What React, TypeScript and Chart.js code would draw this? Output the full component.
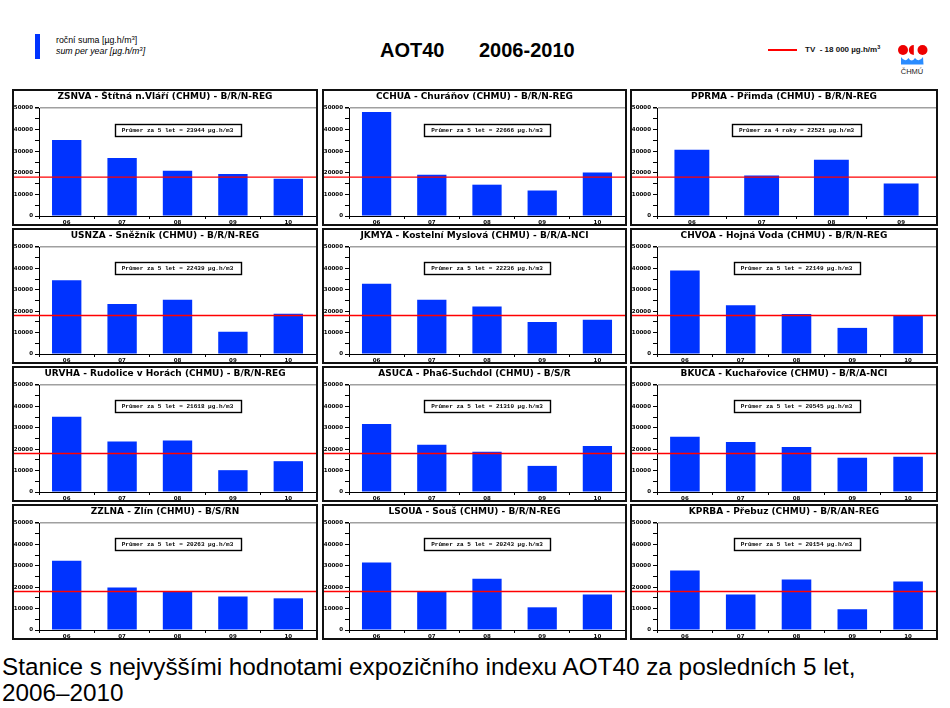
import React, { useEffect, useRef } from 'react';
import { Chart, registerables } from 'chart.js';

Chart.register(...registerables);

// ---------- data ----------
const YEARS5 = ['06', '07', '08', '09', '10'];
const YEARS4 = ['06', '07', '08', '09'];
const TARGET_VALUE = 18000;
const Y_MAX = 50000;
const Y_STEP = 5000;
const Y_LABEL_STEP = 10000;

const titles = [
  'ZSNVA - Štítná n.Vláří (CHMU) - B/R/N-REG',
  'CCHUA - Churáňov (CHMU) - B/R/N-REG',
  'PPRMA - Přimda (CHMU) - B/R/N-REG',
  'USNZA - Sněžník (CHMU) - B/R/N-REG',
  'JKMYA - Kostelní Myslová (CHMU) - B/R/A-NCI',
  'CHVOA - Hojná Voda (CHMU) - B/R/N-REG',
  'URVHA - Rudolice v Horách (CHMU) - B/R/N-REG',
  'ASUCA - Pha6-Suchdol (CHMU) - B/S/R',
  'BKUCA - Kuchařovice (CHMU) - B/R/A-NCI',
  'ZZLNA - Zlín (CHMU) - B/S/RN',
  'LSOUA - Souš (CHMU) - B/R/N-REG',
  'KPRBA - Přebuz (CHMU) - B/R/AN-REG',
];

const zsnva = [35200, 26800, 21000, 19500, 17200];
const cchua = [48100, 19100, 14500, 11800, 20100];
const pprma = [30700, 18800, 26000, 15100];
const usnza = [34500, 23400, 25300, 10400, 18800];
const jkmya = [32800, 25300, 22200, 15000, 16000];
const chvoa = [39000, 22800, 18700, 12200, 18200];
const urvha = [35200, 23600, 24100, 10200, 14400];
const asuca = [31800, 22100, 18800, 12200, 21500];
const bkuca = [25800, 23400, 21000, 16000, 16500];
const zzlna = [32400, 19900, 18000, 15700, 14800];
const lsoua = [31500, 18000, 24000, 10600, 16600];
const kprba = [27800, 16600, 23600, 9700, 22700];

const series = [zsnva, cchua, pprma, usnza, jkmya, chvoa, urvha, asuca, bkuca, zzlna, lsoua, kprba];
const categories = [YEARS5, YEARS5, YEARS4, YEARS5, YEARS5, YEARS5, YEARS5, YEARS5, YEARS5, YEARS5, YEARS5, YEARS5];
const meanValues = [23944, 22666, 22521, 22439, 22236, 22149, 21618, 21310, 20545, 20263, 20243, 20154];
const meanPeriods = ['5 let', '5 let', '4 roky', '5 let', '5 let', '5 let', '5 let', '5 let', '5 let', '5 let', '5 let', '5 let'];

// ---------- layout ----------
const COL_X = [12, 322, 630];
const COL_W = [306, 305, 308];
const ROW_Y = [89, 228, 366, 504];
const ROW_H = [137, 136, 136, 136];
const BORDER = 2;
const BOX_LEVEL = 40000;
const BAR_BLUE = '#0033ff';
const TICK_FONT = { size: 5.5, weight: 'bold', family: '"DejaVu Sans", Arial' };

const panelPlugin = {
  id: 'panelDeco',
  beforeDraw(chart: any, _args: any, opts: any) {
    const ctx = chart.ctx;
    ctx.save();
    ctx.fillStyle = '#000';
    ctx.font = 'bold 9px "DejaVu Sans", Arial';
    ctx.textAlign = 'center';
    ctx.textBaseline = 'top';
    ctx.fillText(opts.title, chart.width / 2, 1);
    ctx.restore();
  },
  afterDatasetsDraw(chart: any, _args: any, opts: any) {
    const { ctx, chartArea } = chart;
    const y = chart.scales.y;
    ctx.save();
    const yy = y.getPixelForValue(TARGET_VALUE);
    ctx.strokeStyle = '#ff0000';
    ctx.lineWidth = 1.3;
    ctx.beginPath();
    ctx.moveTo(0, yy);
    ctx.lineTo(chart.width, yy);
    ctx.stroke();

    ctx.font = 'bold 6px "Liberation Mono", "Courier New", monospace';
    const text = opts.meanText;
    const w = ctx.measureText(text).width + 14;
    const h = 12;
    const cx = (chartArea.left + chartArea.right) / 2;
    const cy = y.getPixelForValue(BOX_LEVEL);
    ctx.fillStyle = '#fff';
    ctx.fillRect(cx - w / 2, cy - h / 2, w, h);
    ctx.strokeStyle = '#000';
    ctx.lineWidth = 1.4;
    ctx.strokeRect(Math.round(cx - w / 2) + 0.5, Math.round(cy - h / 2) + 0.5, Math.round(w), h);
    ctx.fillStyle = '#000';
    ctx.textAlign = 'center';
    ctx.textBaseline = 'middle';
    ctx.fillText(text, cx, cy + 0.5);
    ctx.restore();
  },
};

function Panel({ index }: { index: number }) {
  const ref = useRef<HTMLCanvasElement>(null);
  const col = index % 3;
  const row = Math.floor(index / 3);
  const w = COL_W[col] - 2 * BORDER;
  const h = ROW_H[row] - 2 * BORDER;

  useEffect(() => {
    if (!ref.current) return;
    const labels = categories[index];
    const chart = new Chart(ref.current, {
      type: 'bar',
      data: {
        labels,
        datasets: [
          {
            data: series[index],
            backgroundColor: BAR_BLUE,
            borderWidth: 0,
            categoryPercentage: 1,
            barPercentage: labels.length === 4 ? 0.5 : 0.53,
          },
        ],
      },
      options: {
        animation: false,
        responsive: false,
        maintainAspectRatio: false,
        layout: { padding: { top: 17, right: 0, left: 0, bottom: 0 } },
        plugins: {
          legend: { display: false },
          tooltip: { enabled: false },
          title: { display: false },
          panelDeco: {
            title: titles[index],
            meanText: `Průmer za ${meanPeriods[index]} = ${meanValues[index]} µg.h/m3`,
          },
        } as any,
        scales: {
          x: {
            offset: true,
            grid: {
              offset: true,
              drawOnChartArea: false,
              tickLength: 3,
              tickColor: '#000',
              lineWidth: 1,
            },
            border: { display: true, color: '#000', width: 1 },
            ticks: {
              color: '#000',
              padding: 0,
              font: TICK_FONT,
              maxRotation: 0,
              autoSkip: false,
            },
            afterFit: (s: any) => {
              s.height = 8;
            },
          },
          y: {
            min: 0,
            max: Y_MAX,
            grid: {
              drawOnChartArea: true,
              color: (c: any) => (c.tick && c.tick.value === Y_MAX ? '#a0a0a0' : 'rgba(0,0,0,0)'),
              lineWidth: (c: any) => (c.tick && c.tick.value === Y_MAX ? 1.5 : 1),
              tickColor: '#000',
              tickLength: 4,
            },
            border: { display: true, color: '#000', width: 1 },
            ticks: {
              stepSize: Y_STEP,
              autoSkip: false,
              color: '#000',
              padding: 2,
              font: TICK_FONT,
              callback: (v: any) => (Number(v) % Y_LABEL_STEP === 0 ? String(v) : ''),
            },
            afterFit: (s: any) => {
              s.width = 25;
            },
          },
        },
      },
      plugins: [panelPlugin],
    } as any);
    return () => chart.destroy();
  }, [index]);

  return (
    <div
      style={{
        position: 'absolute',
        left: COL_X[col],
        top: ROW_Y[row],
        width: w,
        height: h,
        border: `${BORDER}px solid #111`,
        background: '#fff',
      }}
    >
      <canvas ref={ref} width={w} height={h} style={{ display: 'block', width: w, height: h }} />
    </div>
  );
}

function Logo() {
  return (
    <svg width={40} height={40} style={{ position: 'absolute', left: 895, top: 42 }} viewBox="0 0 40 40">
      <circle cx={8} cy={8} r={5} fill="#ee0000" />
      <path d="M18.8 3 A5 5 0 0 0 18.8 13 Z" fill="#ee0000" />
      <circle cx={27.5} cy={8} r={5} fill="#ee0000" />
      <path d="M6 15 Q10 21 13.5 16 Q16.5 21 20 16 Q24 21 28 15 L28.5 22.5 L6 22.5 Z" fill="#2a8cff" />
      <text x={17} y={32} fontSize={7.5} fontFamily="Arial" textAnchor="middle" fill="#222">
        ČHMÚ
      </text>
    </svg>
  );
}

export default function App() {
  return (
    <div
      style={{
        position: 'absolute',
        left: 0,
        top: 0,
        width: 950,
        height: 708,
        background: '#fff',
        fontFamily: 'Arial, "Liberation Sans", sans-serif',
        overflow: 'hidden',
      }}
    >
      {/* left legend */}
      <div style={{ position: 'absolute', left: 35, top: 34, width: 5, height: 25, background: '#0033ff' }} />
      <div style={{ position: 'absolute', left: 56, top: 35, fontSize: 8.8, lineHeight: '10px', color: '#000' }}>
        roční suma [µg.h/m<sup style={{ fontSize: 6, verticalAlign: 'top', lineHeight: '6px' }}>3</sup>]
      </div>
      <div style={{ position: 'absolute', left: 56, top: 45.5, fontSize: 8.8, lineHeight: '10px', fontStyle: 'italic', color: '#000' }}>
        sum per year [µg.h/m<sup style={{ fontSize: 6, verticalAlign: 'top', lineHeight: '6px' }}>3</sup>]
      </div>
      {/* title */}
      <div style={{ position: 'absolute', left: 380, top: 39, fontSize: 20, fontWeight: 'bold', lineHeight: '22px', color: '#000' }}>
        AOT40
      </div>
      <div style={{ position: 'absolute', left: 479, top: 39, fontSize: 20, fontWeight: 'bold', lineHeight: '22px', color: '#000' }}>
        2006-2010
      </div>
      {/* right legend */}
      <div style={{ position: 'absolute', left: 768, top: 49, width: 29, height: 1.5, background: '#ff0000' }} />
      <div style={{ position: 'absolute', left: 805, top: 44.5, fontSize: 8, fontWeight: 'bold', lineHeight: '9px', color: '#111', whiteSpace: 'nowrap' }}>
        TV&nbsp; - 18 000 µg.h/m<sup style={{ fontSize: 5.5, verticalAlign: 'top', lineHeight: '5px' }}>3</sup>
      </div>
      <Logo />
      {series.map((_, i) => (
        <Panel key={i} index={i} />
      ))}
      <div style={{ position: 'absolute', left: 2, top: 654, fontSize: 24.3, lineHeight: '26px', color: '#000', whiteSpace: 'nowrap' }}>
        Stanice s nejvyššími hodnotami expozičního indexu AOT40 za posledních 5 let,
        <br />
        2006–2010
      </div>
    </div>
  );
}
